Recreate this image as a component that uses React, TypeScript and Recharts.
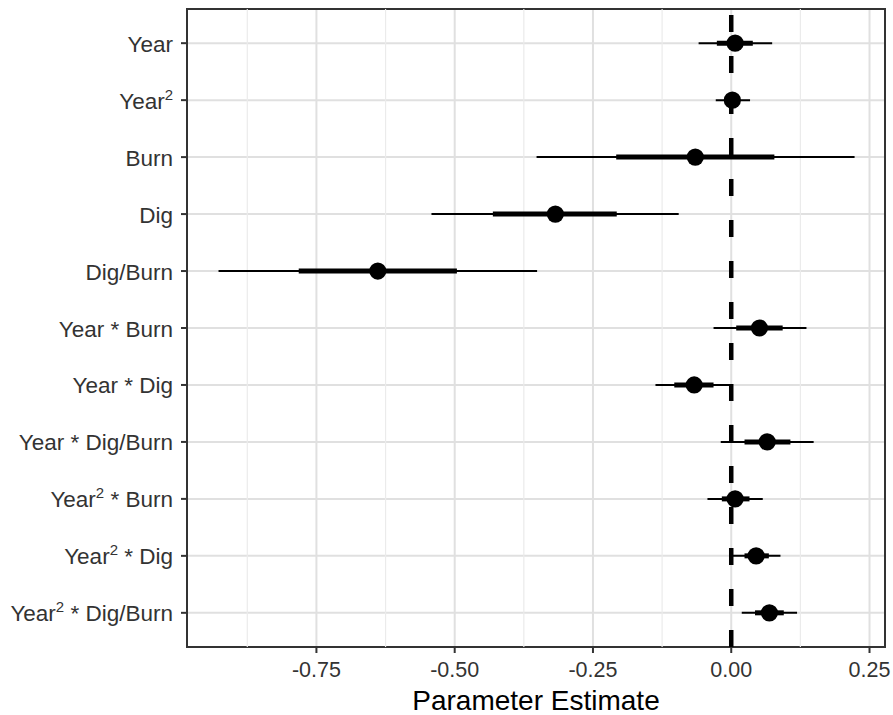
import {
  ComposedChart,
  Scatter,
  ErrorBar,
  XAxis,
  YAxis,
  CartesianGrid,
  ReferenceLine,
  ReferenceArea,
  Label,
} from 'recharts'

// model terms, top to bottom ('^2' marks a superscript 2)
const termLabels = [
  'Year',
  'Year^2',
  'Burn',
  'Dig',
  'Dig/Burn',
  'Year * Burn',
  'Year * Dig',
  'Year * Dig/Burn',
  'Year^2 * Burn',
  'Year^2 * Dig',
  'Year^2 * Dig/Burn',
]

// posterior estimate + inner (thick) and outer (thin) intervals
const estimates = [0.007, 0.002, -0.065, -0.318, -0.639, 0.051, -0.067, 0.065, 0.007, 0.045, 0.069]
const innerLow = [-0.026, -0.012, -0.208, -0.431, -0.782, 0.009, -0.103, 0.024, -0.017, 0.024, 0.043]
const innerHigh = [0.039, 0.014, 0.078, -0.207, -0.496, 0.093, -0.032, 0.107, 0.033, 0.068, 0.095]
const outerLow = [-0.059, -0.028, -0.352, -0.542, -0.927, -0.032, -0.137, -0.019, -0.043, 0.002, 0.019]
const outerHigh = [0.074, 0.034, 0.223, -0.095, -0.351, 0.136, -0.004, 0.149, 0.057, 0.089, 0.119]

const xTicks = [-0.75, -0.5, -0.25, 0, 0.25]
const xMinorTicks = [-0.875, -0.625, -0.375, -0.125, 0.125]
const xDomain: [number, number] = [-0.984, 0.278]
const yDomain: [number, number] = [-0.6, 10.6]

const FONT = '"Liberation Sans", Arial, Helvetica, sans-serif'

const rows = termLabels.map((term, i) => ({
  term,
  pos: i,
  est: estimates[i],
  inner: [estimates[i] - innerLow[i], innerHigh[i] - estimates[i]],
  outer: [estimates[i] - outerLow[i], outerHigh[i] - estimates[i]],
}))

interface TickProps {
  x?: number
  y?: number
  payload?: { value: number }
}

// y labels, with the superscript 2 drawn as a raised tspan
function TermTick({ x = 0, y = 0, payload }: TickProps) {
  const label = termLabels[payload?.value ?? 0] ?? ''
  const parts = label.split('^2')
  return (
    <text
      x={x}
      y={y}
      dy={8.5}
      textAnchor="end"
      fontSize={22.5}
      fill="#333"
      fontFamily={FONT}
      style={{ whiteSpace: 'pre' }}
    >
      {parts.length > 1 ? (
        <>
          <tspan>{parts[0]}</tspan>
          <tspan dy={-9} fontSize={15}>2</tspan>
          <tspan dy={9}>{parts[1]}</tspan>
        </>
      ) : (
        label
      )}
    </text>
  )
}

export default function App() {
  return (
    <div style={{ position: 'absolute', left: 0, top: 0, background: '#fff' }}>
      <ComposedChart
        width={893}
        height={715}
        data={rows}
        margin={{ top: 9, right: 8, bottom: 0, left: 0 }}
      >
        <CartesianGrid stroke="#e0e0e0" strokeWidth={2} />
        {xMinorTicks.map(v => (
          <ReferenceLine key={v} x={v} stroke="#ebebeb" strokeWidth={1.2} />
        ))}
        <XAxis
          type="number"
          dataKey="est"
          domain={xDomain}
          ticks={xTicks}
          allowDataOverflow
          tickFormatter={(v: number) => v.toFixed(2)}
          height={68}
          tickSize={6}
          tickMargin={9}
          axisLine={false}
          tickLine={{ stroke: '#333', strokeWidth: 2 }}
          tick={{ fill: '#333', fontSize: 21.5, fontFamily: FONT }}
        >
          <Label
            value="Parameter Estimate"
            position="insideBottom"
            offset={5}
            fill="#000"
            fontSize={28}
            fontFamily={FONT}
          />
        </XAxis>
        <YAxis
          type="number"
          dataKey="pos"
          domain={yDomain}
          ticks={rows.map(r => r.pos)}
          reversed
          allowDataOverflow
          width={187}
          tickSize={6}
          tickMargin={8}
          axisLine={false}
          tickLine={{ stroke: '#333', strokeWidth: 2 }}
          tick={<TermTick />}
        />
        <ReferenceLine x={0} stroke="#000" strokeWidth={4.5} strokeDasharray="17 24" />
        <Scatter
          dataKey="pos"
          isAnimationActive={false}
          shape={(p: { cx?: number; cy?: number }) => (
            <circle cx={p.cx} cy={p.cy} r={8.6} fill="#000" />
          )}
        >
          <ErrorBar dataKey="outer" direction="x" width={0} stroke="#000" strokeWidth={2} />
          <ErrorBar dataKey="inner" direction="x" width={0} stroke="#000" strokeWidth={5} />
        </Scatter>
        <ReferenceArea
          x1={xDomain[0]}
          x2={xDomain[1]}
          y1={yDomain[0]}
          y2={yDomain[1]}
          fill="none"
          stroke="#333"
          strokeWidth={2}
          ifOverflow="visible"
        />
      </ComposedChart>
    </div>
  )
}
